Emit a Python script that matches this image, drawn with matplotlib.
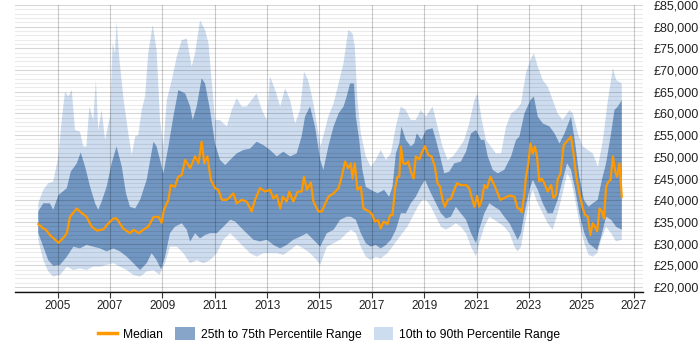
import numpy as np
import matplotlib
matplotlib.use("Agg")
import matplotlib.pyplot as plt
from matplotlib.lines import Line2D
from matplotlib.patches import Patch
from matplotlib.ticker import FuncFormatter, MultipleLocator

# ---------------- data ----------------
median_years = [2004.26, 2004.45, 2004.55, 2004.7, 2005.03, 2005.2, 2005.35, 2005.47, 2005.73, 2005.85,
                2006.1, 2006.3, 2006.5, 2006.75, 2006.94, 2007.13, 2007.25, 2007.5, 2007.76, 2007.9,
                2008.1, 2008.27, 2008.46, 2008.66, 2008.85, 2008.97, 2009.06, 2009.23, 2009.32, 2009.48,
                2009.6, 2009.74, 2009.87, 2010.06, 2010.25, 2010.38, 2010.5, 2010.6, 2010.72, 2010.85,
                2011.01, 2011.14, 2011.27, 2011.46, 2011.59, 2011.71, 2011.84, 2012.03, 2012.22, 2012.41,
                2012.54, 2012.73, 2012.92, 2013.11, 2013.24, 2013.37, 2013.5, 2013.6, 2013.75, 2013.85,
                2014.0, 2014.17, 2014.32, 2014.41, 2014.52, 2014.67, 2014.77, 2014.96, 2015.09, 2015.34,
                2015.54, 2015.73, 2015.85, 2015.98, 2016.1, 2016.2, 2016.26, 2016.35, 2016.45, 2016.58,
                2016.68, 2016.9, 2017.03, 2017.11, 2017.24, 2017.34, 2017.45, 2017.6, 2017.7, 2017.79,
                2017.89, 2017.98, 2018.05, 2018.11, 2018.2, 2018.3, 2018.39, 2018.49, 2018.6, 2018.68,
                2018.81, 2018.9, 2019.03, 2019.16, 2019.28, 2019.41, 2019.51, 2019.61, 2019.7, 2019.79,
                2019.9, 2020.02, 2020.15, 2020.25, 2020.4, 2020.6, 2020.72, 2020.81, 2020.92, 2021.02,
                2021.1, 2021.2, 2021.3, 2021.4, 2021.53, 2021.68, 2021.78, 2021.91, 2022.06, 2022.26,
                2022.45, 2022.57, 2022.64, 2022.73, 2022.83, 2022.89, 2022.98, 2023.06, 2023.15, 2023.23,
                2023.31, 2023.4, 2023.49, 2023.59, 2023.72, 2023.85, 2023.94, 2024.04, 2024.1, 2024.21,
                2024.33, 2024.61, 2024.72, 2024.81, 2024.93, 2025.06, 2025.15, 2025.25, 2025.35, 2025.44,
                2025.53, 2025.61, 2025.7, 2025.79, 2025.87, 2025.95, 2026.04, 2026.12, 2026.21, 2026.3,
                2026.37, 2026.46, 2026.55]
median_values = [34500, 33500, 33200, 32000, 30200, 31200, 32400, 36200, 38100, 37400,
                 36200, 33900, 33000, 33300, 34700, 35800, 35800, 33500, 32400, 33200,
                 32400, 33200, 33900, 36100, 36200, 34800, 37800, 40100, 43500, 43100,
                 45400, 45800, 49300, 47400, 50100, 48500, 53500, 48500, 50100, 44700,
                 42800, 42400, 40100, 40100, 40800, 41600, 39300, 40100, 39700, 37400,
                 40100, 42800, 42000, 42400, 40400, 41200, 38100, 40800, 39700, 42000,
                 39700, 42000, 42000, 45400, 42400, 44100, 39700, 37400, 37400, 40800,
                 41600, 42800, 45400, 48900, 47400, 48500, 45000, 48500, 42400, 43100,
                 38100, 37400, 36600, 35100, 35400, 33500, 35100, 34500, 36600, 36600,
                 42800, 45400, 45400, 52400, 48500, 48400, 48900, 46600, 45000, 50100,
                 49400, 50800, 52500, 50400, 50100, 47700, 43900, 43100, 40100, 38500,
                 40100, 40300, 42400, 43900, 43500, 43500, 42800, 40800, 38500, 41000,
                 38500, 40100, 43500, 42800, 45400, 43500, 42000, 40100, 40500, 41100,
                 40800, 38100, 38100, 37200, 41600, 45400, 48500, 53100, 50800, 52400,
                 50100, 44300, 45000, 43900, 42000, 43500, 40500, 41300, 44700, 46200,
                 52700, 54700, 50100, 45400, 41600, 38100, 36600, 36200, 32000, 34700,
                 33900, 32800, 38100, 37400, 35800, 43100, 44300, 44700, 50100, 46600,
                 45400, 48500, 40800]

p75_years = [2004.26, 2004.45, 2004.7, 2004.83, 2005.03, 2005.2, 2005.35, 2005.5, 2005.73, 2005.88,
             2006.05, 2006.24, 2006.43, 2006.55, 2006.68, 2006.87, 2007.06, 2007.25, 2007.45, 2007.61,
             2007.76, 2007.96, 2008.15, 2008.4, 2008.66, 2008.78, 2008.91, 2009.04, 2009.23, 2009.42,
             2009.61, 2009.87, 2010.06, 2010.16, 2010.31, 2010.5, 2010.63, 2010.82, 2011.01, 2011.2,
             2011.4, 2011.59, 2011.84, 2012.1, 2012.35, 2012.6, 2012.86, 2013.11, 2013.37, 2013.62,
             2013.88, 2014.13, 2014.32, 2014.45, 2014.64, 2014.83, 2015.03, 2015.15, 2015.34, 2015.54,
             2015.73, 2015.92, 2016.04, 2016.17, 2016.32, 2016.39, 2016.52, 2016.64, 2016.77, 2016.96,
             2017.22, 2017.47, 2017.66, 2017.79, 2017.92, 2018.05, 2018.13, 2018.3, 2018.49, 2018.62,
             2018.72, 2018.9, 2019.07, 2019.32, 2019.45, 2019.61, 2019.77, 2019.96, 2020.15, 2020.4,
             2020.6, 2020.79, 2020.98, 2021.17, 2021.3, 2021.43, 2021.62, 2021.81, 2022.06, 2022.32,
             2022.51, 2022.64, 2022.83, 2023.06, 2023.19, 2023.34, 2023.53, 2023.79, 2023.98, 2024.17,
             2024.36, 2024.61, 2024.77, 2024.93, 2025.1, 2025.28, 2025.44, 2025.63, 2025.79, 2025.95,
             2026.14, 2026.27, 2026.4, 2026.55]
p75_values = [37400, 39300, 39300, 37800, 41200, 42000, 42800, 46600, 48500, 51000,
              47700, 43100, 39300, 37800, 39700, 43100, 48500, 52400, 47700, 41600,
              38500, 38100, 40100, 44700, 53500, 52400, 49300, 46200, 52400, 59300,
              65400, 64600, 61600, 58500, 61600, 68100, 66900, 60800, 53100, 49300,
              48100, 49300, 50800, 51600, 51900, 53500, 52700, 51600, 50100, 51200,
              50100, 50800, 54700, 59300, 61600, 57000, 49300, 47000, 52400, 57000,
              60000, 61600, 63900, 66900, 66900, 59300, 53900, 47000, 43100, 42400,
              41600, 42400, 40800, 43100, 50800, 53100, 57000, 53900, 52400, 53100,
              55400, 53900, 56200, 56600, 53900, 50100, 46200, 46600, 48500, 48900,
              51200, 55400, 56200, 53900, 53900, 50100, 47000, 46200, 47000, 50100,
              53900, 54700, 60000, 63100, 63900, 59300, 57700, 57000, 55400, 53100,
              55400, 59300, 53100, 45400, 40100, 38500, 39300, 40100, 44700, 48500,
              55400, 60800, 61600, 63100]

p25_years = [2004.26, 2004.45, 2004.64, 2004.83, 2005.09, 2005.35, 2005.6, 2005.85, 2006.1, 2006.36,
             2006.62, 2006.87, 2007.13, 2007.38, 2007.64, 2007.89, 2008.15, 2008.4, 2008.59, 2008.78,
             2008.95, 2009.1, 2009.29, 2009.48, 2009.74, 2009.93, 2010.06, 2010.25, 2010.44, 2010.63,
             2010.82, 2011.08, 2011.33, 2011.59, 2011.78, 2011.97, 2012.22, 2012.48, 2012.73, 2012.99,
             2013.24, 2013.5, 2013.75, 2014.0, 2014.26, 2014.52, 2014.77, 2015.03, 2015.28, 2015.54,
             2015.79, 2016.04, 2016.2, 2016.39, 2016.58, 2016.77, 2016.96, 2017.15, 2017.34, 2017.54,
             2017.73, 2017.92, 2018.11, 2018.3, 2018.49, 2018.68, 2018.87, 2019.03, 2019.26, 2019.45,
             2019.64, 2019.83, 2020.02, 2020.21, 2020.4, 2020.6, 2020.79, 2020.98, 2021.1, 2021.3,
             2021.49, 2021.68, 2021.87, 2022.06, 2022.26, 2022.45, 2022.57, 2022.7, 2022.83, 2023.02,
             2023.15, 2023.34, 2023.53, 2023.72, 2023.91, 2024.1, 2024.29, 2024.46, 2024.61, 2024.77,
             2024.93, 2025.12, 2025.28, 2025.44, 2025.61, 2025.76, 2025.95, 2026.14, 2026.33, 2026.55]
p25_values = [32400, 29300, 26200, 24900, 25100, 27000, 29300, 28900, 29700, 29300,
              28900, 28200, 28900, 28200, 27000, 25500, 23900, 25500, 27800, 26200,
              24100, 27000, 32400, 33900, 34700, 33200, 30500, 32400, 31200, 32000,
              32400, 32400, 33900, 35500, 35100, 33900, 32400, 30900, 30500, 30900,
              29700, 28900, 29700, 30900, 31600, 32400, 30900, 29300, 32400, 33200,
              35500, 36200, 36200, 35500, 32400, 30100, 29300, 29700, 28900, 29700,
              30900, 33200, 37000, 37000, 39300, 40800, 43100, 44700, 41600, 39300,
              37000, 35800, 36200, 38500, 37000, 35500, 32400, 30100, 33200, 37000,
              39300, 38500, 37800, 36200, 34700, 32400, 30900, 32400, 37000, 42400,
              44700, 42400, 39300, 37000, 37000, 40100, 44700, 48500, 47000, 42400,
              37000, 32400, 30100, 29300, 28500, 31600, 36200, 35500, 33900, 33200]

p90_years = [2004.26, 2004.45, 2004.64, 2004.83, 2005.03, 2005.13, 2005.28, 2005.41, 2005.54, 2005.66,
             2005.85, 2005.98, 2006.1, 2006.21, 2006.36, 2006.46, 2006.55, 2006.68, 2006.81, 2007.0,
             2007.1, 2007.19, 2007.25, 2007.36, 2007.52, 2007.7, 2007.83, 2007.96, 2008.08, 2008.21,
             2008.34, 2008.46, 2008.63, 2008.78, 2008.91, 2009.04, 2009.17, 2009.36, 2009.55, 2009.74,
             2009.93, 2010.12, 2010.25, 2010.44, 2010.63, 2010.76, 2010.89, 2011.01, 2011.2, 2011.46,
             2011.65, 2011.84, 2012.03, 2012.22, 2012.41, 2012.6, 2012.8, 2012.99, 2013.11, 2013.31,
             2013.5, 2013.69, 2013.88, 2014.07, 2014.26, 2014.41, 2014.57, 2014.77, 2014.96, 2015.04,
             2015.21, 2015.34, 2015.54, 2015.73, 2015.92, 2016.1, 2016.26, 2016.35, 2016.45, 2016.58,
             2016.77, 2016.96, 2017.15, 2017.34, 2017.54, 2017.73, 2017.92, 2018.11, 2018.3, 2018.49,
             2018.68, 2018.87, 2019.07, 2019.32, 2019.51, 2019.7, 2019.9, 2020.09, 2020.28, 2020.53,
             2020.72, 2020.92, 2021.04, 2021.2, 2021.36, 2021.55, 2021.74, 2021.94, 2022.13, 2022.32,
             2022.51, 2022.7, 2022.89, 2023.06, 2023.19, 2023.34, 2023.53, 2023.72, 2023.91, 2024.1,
             2024.29, 2024.55, 2024.68, 2024.87, 2025.06, 2025.25, 2025.44, 2025.64, 2025.83, 2026.02,
             2026.21, 2026.34, 2026.55]
p90_values = [39300, 42400, 43900, 44300, 50100, 57000, 65000, 63900, 65400, 56200,
              55800, 52400, 52400, 61600, 58500, 67700, 56200, 60800, 53900, 59300,
              76200, 73900, 81200, 72300, 63100, 55400, 50400, 54700, 55000, 60800,
              63900, 73900, 80400, 74600, 58500, 52400, 63100, 67700, 73100, 76900,
              77300, 70800, 73900, 81500, 79200, 76200, 67000, 58500, 58500, 57000,
              60800, 63500, 61600, 61600, 63100, 64600, 60800, 58500, 68500, 65400,
              61600, 65800, 63100, 57700, 60800, 69600, 67700, 62300, 55400, 52400,
              56200, 59300, 62300, 66900, 71600, 79200, 78500, 75400, 63100, 55400,
              50100, 47700, 49300, 51600, 49300, 50800, 57000, 61600, 60800, 58500,
              58500, 60800, 59300, 61600, 57000, 52400, 49300, 50100, 51600, 53900,
              57700, 63100, 64600, 58500, 53900, 52400, 50800, 50800, 57000, 60000,
              60800, 62300, 69300, 72300, 73900, 70800, 67700, 66200, 63100, 60000,
              58500, 60800, 60000, 55400, 52400, 51600, 50800, 47700, 53900, 63100,
              70400, 67700, 66900]

p10_years = [2004.26, 2004.45, 2004.64, 2004.83, 2005.09, 2005.35, 2005.6, 2005.85, 2006.1, 2006.36,
             2006.62, 2006.87, 2007.13, 2007.38, 2007.64, 2007.89, 2008.15, 2008.4, 2008.66, 2008.89,
             2009.1, 2009.29, 2009.55, 2009.8, 2010.06, 2010.31, 2010.57, 2010.82, 2011.08, 2011.33,
             2011.59, 2011.84, 2012.1, 2012.35, 2012.6, 2012.86, 2013.11, 2013.37, 2013.62, 2013.88,
             2014.13, 2014.39, 2014.64, 2014.9, 2015.03, 2015.28, 2015.54, 2015.79, 2016.04, 2016.2,
             2016.39, 2016.58, 2016.77, 2016.96, 2017.15, 2017.34, 2017.6, 2017.79, 2017.98, 2018.17,
             2018.36, 2018.56, 2018.75, 2018.94, 2019.07, 2019.26, 2019.45, 2019.64, 2019.83, 2020.02,
             2020.21, 2020.4, 2020.6, 2020.79, 2020.98, 2021.1, 2021.3, 2021.49, 2021.68, 2021.87,
             2022.06, 2022.26, 2022.45, 2022.57, 2022.7, 2022.83, 2023.02, 2023.15, 2023.34, 2023.53,
             2023.72, 2023.91, 2024.1, 2024.29, 2024.46, 2024.61, 2024.77, 2024.93, 2025.12, 2025.28,
             2025.44, 2025.61, 2025.76, 2025.95, 2026.14, 2026.33, 2026.55]
p10_values = [30900, 26200, 23600, 22400, 22800, 24700, 23900, 24300, 23900, 24700,
              24700, 25100, 25500, 24700, 23900, 22800, 22400, 23600, 23900, 22800,
              25500, 29300, 29300, 27800, 25500, 26200, 25500, 26200, 27800, 30900,
              32400, 30900, 29300, 27800, 27000, 27800, 27800, 27800, 27400, 28500,
              29700, 28900, 27800, 26200, 25100, 29300, 30100, 30900, 32400, 33200,
              32400, 29300, 27000, 26200, 27000, 26600, 27800, 29300, 30900, 32400,
              33900, 36200, 38500, 40100, 40100, 38500, 36200, 33900, 33200, 33900,
              34700, 33900, 32400, 29300, 27000, 30100, 33900, 36200, 35500, 34700,
              33900, 32400, 29300, 28200, 29300, 33900, 40100, 42400, 39300, 37000,
              34700, 33200, 37000, 41600, 46200, 44700, 40100, 34700, 30100, 27400,
              27000, 27800, 30900, 33900, 32400, 30500, 30900]

year_ticks = [2005, 2007, 2009, 2011, 2013, 2015, 2017, 2019, 2021, 2023, 2025, 2027]
legend_labels = ["Median", "25th to 75th Percentile Range", "10th to 90th Percentile Range"]

# ---------------- style ----------------
FONT = ["Liberation Sans", "DejaVu Sans"]
plt.rcParams["font.family"] = FONT
ORANGE = "#ff9900"
DARK = "#7196c1"
LIGHT = "#cddcee"

fig = plt.figure(figsize=(7, 3.5), dpi=100)
ax = fig.add_axes([15 / 700, 1 - 292 / 350, (643 - 15) / 700, (292 - 5) / 350])

# 10th-90th band
xs = np.concatenate([p90_years, p10_years[::-1]])
ys = np.concatenate([p90_values, p10_values[::-1]])
ax.fill(xs, ys, color=LIGHT, lw=0, zorder=1)
# 25th-75th band
xs = np.concatenate([p75_years, p25_years[::-1]])
ys = np.concatenate([p75_values, p25_values[::-1]])
ax.fill(xs, ys, color=DARK, lw=0, zorder=2)
# median
ax.plot(median_years, median_values, color=ORANGE, lw=1.6, zorder=5, solid_joinstyle="round")

ax.set_xlim(2003.37, 2027.36)
ax.set_ylim(18850, 85000)

ax.yaxis.set_major_locator(MultipleLocator(5000))
ax.yaxis.set_minor_locator(MultipleLocator(1000))
ax.set_xticks(year_ticks)
ax.set_xticklabels([str(y) for y in year_ticks])

ax.yaxis.tick_right()
ax.yaxis.set_major_formatter(FuncFormatter(lambda v, p: "£{:,.0f}".format(v)))
ax.tick_params(axis="y", which="both", length=0, labelsize=9, pad=8, labelcolor="#222222")
ax.tick_params(axis="x", length=4, width=0.8, color="#333333", labelsize=8.5, pad=2, labelcolor="#222222")

# grid (drawn over the bands, faint)
ax.set_axisbelow(False)
ax.grid(which="minor", axis="y", color="black", alpha=0.08, lw=0.8)
ax.grid(which="major", axis="y", color="black", alpha=0.16, lw=0.8)
ax.grid(which="major", axis="x", color="black", alpha=0.2, lw=0.8)

for s in ["left", "right", "top"]:
    ax.spines[s].set_visible(False)
ax.spines["bottom"].set_color("#111111")
ax.spines["bottom"].set_linewidth(1.0)

handles = [Line2D([0], [0], color=ORANGE, lw=2.5),
           Patch(facecolor="#87a5c9", edgecolor="none"),
           Patch(facecolor=LIGHT, edgecolor="none")]
fig.legend(handles, legend_labels, loc="center", bbox_to_anchor=(329 / 700, 1 - 334 / 350),
           ncol=3, frameon=False, fontsize=8.7, handlelength=1.6, handleheight=1.2,
           columnspacing=1.0, handletextpad=0.5)

fig.savefig("out.png", dpi=100)
